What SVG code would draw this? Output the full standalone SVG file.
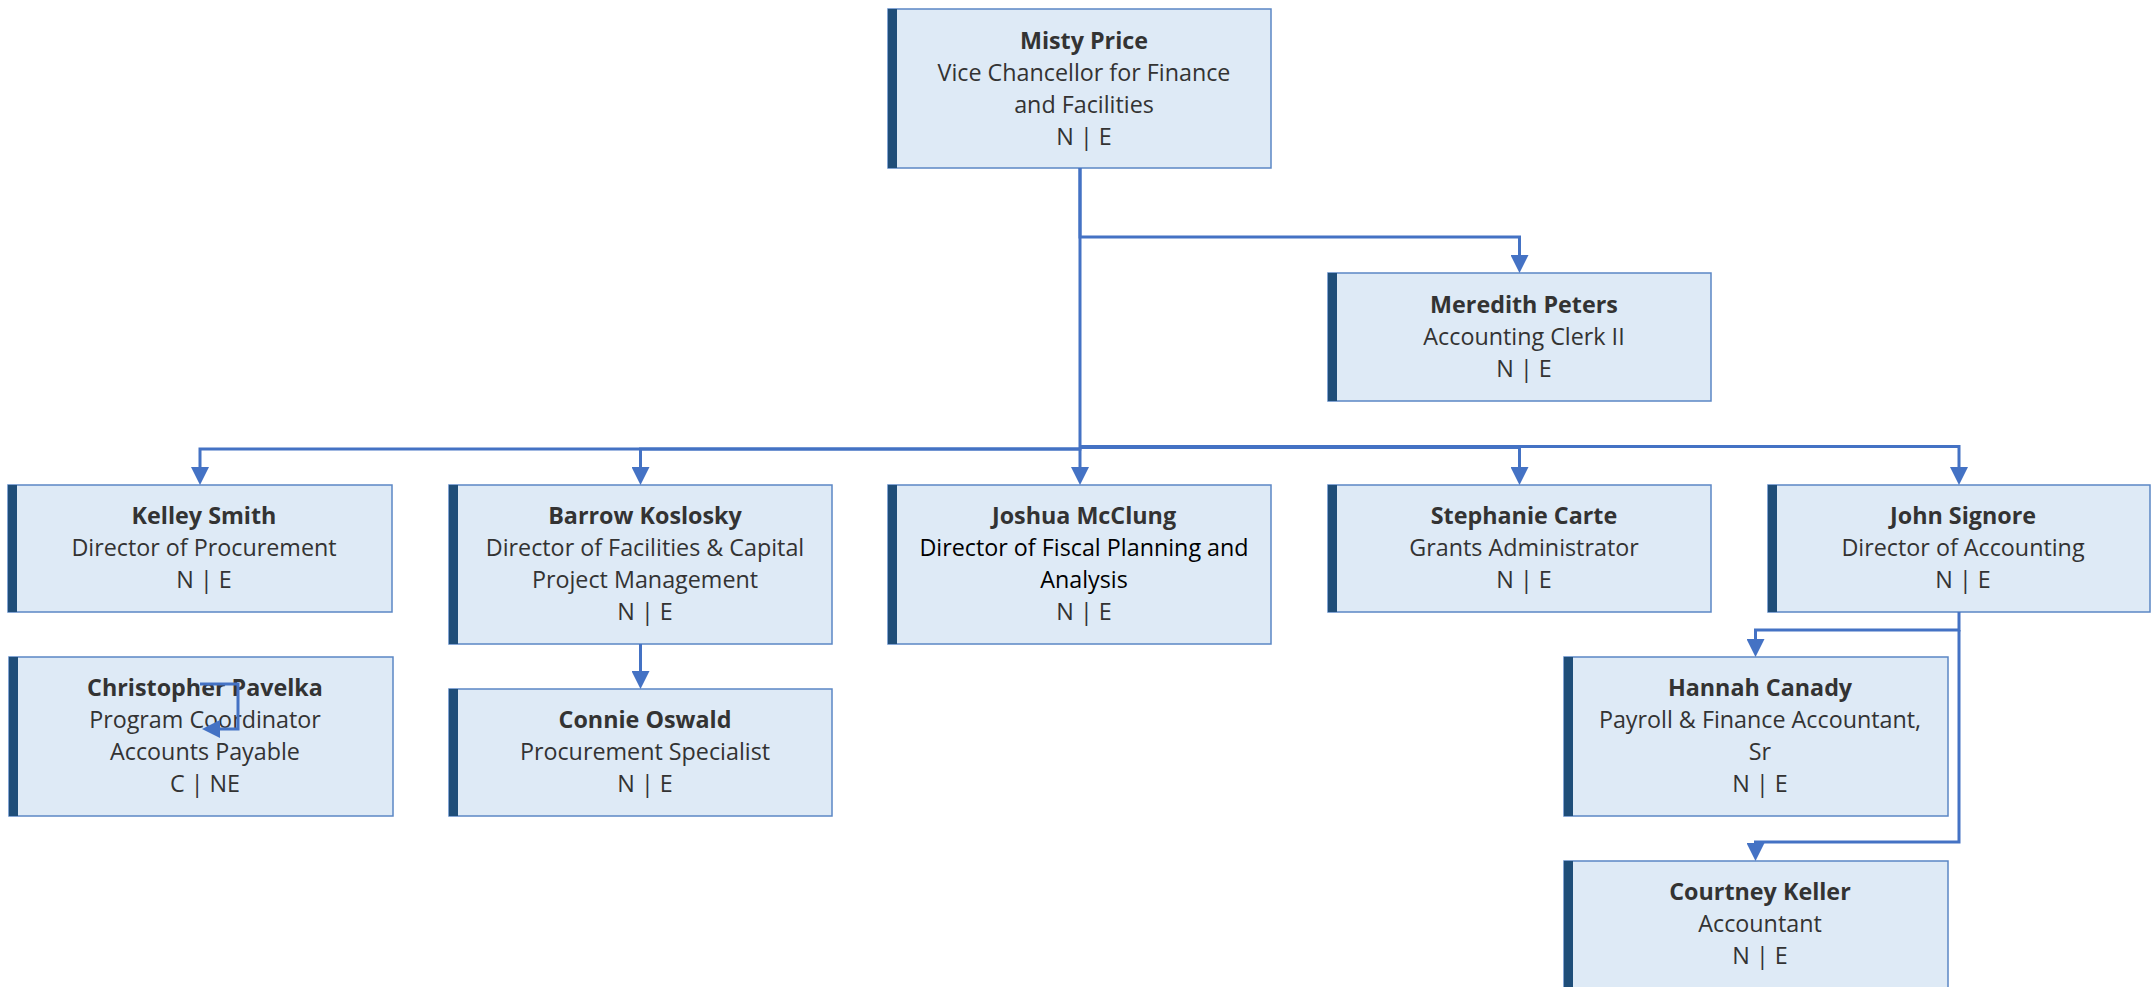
<svg xmlns="http://www.w3.org/2000/svg" width="2153" height="987" viewBox="0 0 2153 987">
<defs>
<style>
.box{fill:#DEEAF6;stroke:#5B87C5;stroke-width:1.5}
.bar{fill:#1F4E79}
.t{font-family:"Open Sans","Liberation Sans",sans-serif;font-size:23.3px;fill:#333;text-anchor:middle}
.n{font-weight:bold}
.blk{fill:#000}
.c{fill:none;stroke:#4472C4;stroke-width:3}
</style>
<marker id="ah" viewBox="0 0 18 18" refX="14" refY="9" markerWidth="18" markerHeight="18" markerUnits="userSpaceOnUse" orient="auto">
<path d="M0,0 L18,9 L0,18 z" fill="#4472C4"/>
</marker>
</defs>
<rect width="2153" height="987" fill="#fff"/>

<g id="misty">
<rect class="box" x="888" y="9" width="383" height="159"/><rect class="bar" x="888" y="9" width="9" height="159"/>
<text class="t n" x="1084" y="49">Misty Price</text>
<text class="t" x="1084" y="81">Vice Chancellor for Finance</text>
<text class="t" x="1084" y="113">and Facilities</text>
<text class="t" x="1084" y="145">N | E</text>
</g>

<g id="meredith">
<rect class="box" x="1328" y="273" width="383" height="128"/><rect class="bar" x="1328" y="273" width="9" height="128"/>
<text class="t n" x="1524" y="313">Meredith Peters</text>
<text class="t" x="1524" y="345">Accounting Clerk II</text>
<text class="t" x="1524" y="377">N | E</text>
</g>

<g id="kelley">
<rect class="box" x="8" y="485" width="384" height="127"/><rect class="bar" x="8" y="485" width="9" height="127"/>
<text class="t n" x="204" y="524">Kelley Smith</text>
<text class="t" x="204" y="556">Director of Procurement</text>
<text class="t" x="204" y="588">N | E</text>
</g>

<g id="barrow">
<rect class="box" x="449" y="485" width="383" height="159"/><rect class="bar" x="449" y="485" width="9" height="159"/>
<text class="t n" x="645" y="524">Barrow Koslosky</text>
<text class="t" x="645" y="556">Director of Facilities &amp; Capital</text>
<text class="t" x="645" y="588">Project Management</text>
<text class="t" x="645" y="620">N | E</text>
</g>

<g id="joshua">
<rect class="box" x="888" y="485" width="383" height="159"/><rect class="bar" x="888" y="485" width="9" height="159"/>
<text class="t n" x="1084" y="524">Joshua McClung</text>
<text class="t blk" x="1084" y="556">Director of Fiscal Planning and</text>
<text class="t blk" x="1084" y="588">Analysis</text>
<text class="t" x="1084" y="620">N | E</text>
</g>

<g id="stephanie">
<rect class="box" x="1328" y="485" width="383" height="127"/><rect class="bar" x="1328" y="485" width="9" height="127"/>
<text class="t n" x="1524" y="524">Stephanie Carte</text>
<text class="t" x="1524" y="556">Grants Administrator</text>
<text class="t" x="1524" y="588">N | E</text>
</g>

<g id="john">
<rect class="box" x="1768" y="485" width="382" height="127"/><rect class="bar" x="1768" y="485" width="9" height="127"/>
<text class="t n" x="1963" y="524">John Signore</text>
<text class="t" x="1963" y="556">Director of Accounting</text>
<text class="t" x="1963" y="588">N | E</text>
</g>

<g id="christopher">
<rect class="box" x="9" y="657" width="384" height="159"/><rect class="bar" x="9" y="657" width="9" height="159"/>
<text class="t n" x="205" y="696">Christopher Pavelka</text>
<text class="t" x="205" y="728">Program Coordinator</text>
<text class="t" x="205" y="760">Accounts Payable</text>
<text class="t" x="205" y="792">C | NE</text>
</g>

<g id="connie">
<rect class="box" x="449" y="689" width="383" height="127"/><rect class="bar" x="449" y="689" width="9" height="127"/>
<text class="t n" x="645" y="728">Connie Oswald</text>
<text class="t" x="645" y="760">Procurement Specialist</text>
<text class="t" x="645" y="792">N | E</text>
</g>

<g id="hannah">
<rect class="box" x="1564" y="657" width="384" height="159"/><rect class="bar" x="1564" y="657" width="9" height="159"/>
<text class="t n" x="1760" y="696">Hannah Canady</text>
<text class="t" x="1760" y="728">Payroll &amp; Finance Accountant,</text>
<text class="t" x="1760" y="760">Sr</text>
<text class="t" x="1760" y="792">N | E</text>
</g>

<g id="courtney">
<rect class="box" x="1564" y="861" width="384" height="130"/><rect class="bar" x="1564" y="861" width="9" height="130"/>
<text class="t n" x="1760" y="900">Courtney Keller</text>
<text class="t" x="1760" y="932">Accountant</text>
<text class="t" x="1760" y="964">N | E</text>
</g>

<g id="connectors">
<path class="c" d="M1080,168 V237 H1519.5 V269" marker-end="url(#ah)"/>
<path class="c" d="M1080,168 V449 H200 V481" marker-end="url(#ah)"/>
<path class="c" d="M1080,449 H640.5 V481" marker-end="url(#ah)"/>
<path class="c" d="M1080,449 V481" marker-end="url(#ah)"/>
<path class="c" d="M1080,447.5 H1519.5 V481" marker-end="url(#ah)"/>
<path class="c" d="M1080,446.5 H1959 V481" marker-end="url(#ah)"/>
<path class="c" d="M640.5,644 V685" marker-end="url(#ah)"/>
<path class="c" d="M1959,612 V630 H1755.5 V653" marker-end="url(#ah)"/>
<path class="c" d="M1959,630 V842 H1755.5 V857" marker-end="url(#ah)"/>
<path class="c" d="M200,684 H238 V729 H206" marker-end="url(#ah)"/>
</g>
</svg>
